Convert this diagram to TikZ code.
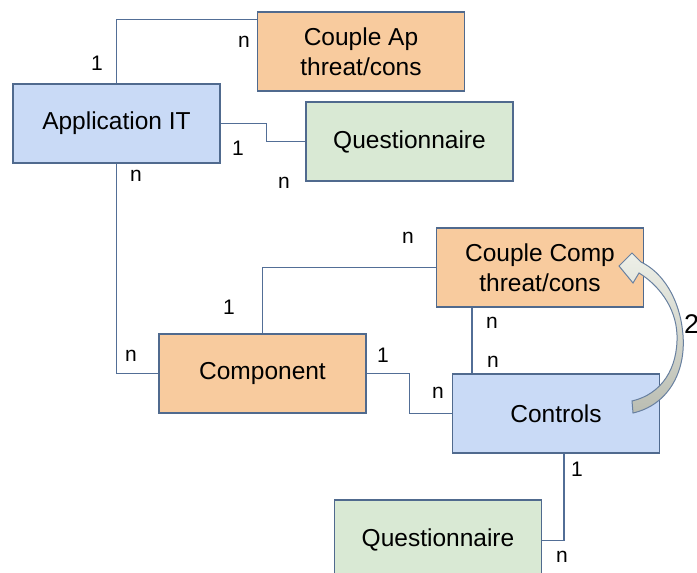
\documentclass[tikz,border=0pt]{standalone}
\usepackage{fontspec}
\setmainfont{Liberation Sans}
\usetikzlibrary{calc}

\definecolor{boxblue}{RGB}{201,218,246}
\definecolor{boxorange}{RGB}{248,203,158}
\definecolor{boxgreen}{RGB}{217,233,212}
\definecolor{edgeblue}{RGB}{80,106,142}
\definecolor{linkblue}{RGB}{82,110,150}
\definecolor{arrowtop}{RGB}{238,240,232}
\definecolor{arrowbot}{RGB}{186,189,178}
\definecolor{arrowedge}{RGB}{104,128,160}

\tikzset{
  entity/.style={draw=edgeblue, line width=1.4pt, minimum width=207pt,
    minimum height=79pt, inner sep=0pt, align=center,
    font=\fontsize{24.5}{30}\selectfont},
  bluebox/.style={entity, fill=boxblue},
  orangebox/.style={entity, fill=boxorange},
  greenbox/.style={entity, fill=boxgreen},
  link/.style={draw=linkblue, line width=1.4pt},
  card/.style={inner sep=0pt, font=\fontsize{21}{24}\selectfont}
}

\begin{document}
\begin{tikzpicture}[x=1pt, y=-1pt]
\useasboundingbox (0,0) rectangle (697,573);

% entities
\node[bluebox]   (app)  at (116.5,123.5) {Application IT};
\node[orangebox] (cap)  at (361,51.5)    {Couple Ap\\threat/cons};
\node[greenbox]  (q1)   at (409.5,141.5) {Questionnaire};
\node[orangebox] (cc)   at (540,267.5)   {Couple Comp\\threat/cons};
\node[orangebox] (comp) at (262.5,373.5) {Component};
\node[bluebox]   (ctl)  at (556,413.5)   {Controls};
\node[greenbox]  (q2)   at (438,539.5)   {Questionnaire};

% relations
\draw[link] (app.north) |- ([yshift=-8pt]cap.north west);
\draw[link] (app.east) -- ++(46,0) |- (q1.west);
\draw[link] (app.south) |- (comp.west);
\draw[link] (comp.north) |- (cc.west);
\draw[link] (comp.east) -- ++(43,0) |- (ctl.west);
\draw[link] ([xshift=36pt]cc.south west) -- ([xshift=20pt]ctl.north west);
\draw[link] ([xshift=8pt]ctl.south) |- ([yshift=-1pt]q2.east);

% cardinalities
\node[card] (c1)  at (97,63)   {1};
\node[card] (c2)  at (244,42)  {n};
\node[card] (c3)  at (238,148) {1};
\node[card] (c4)  at (284,183) {n};
\node[card] (c5)  at (136,176) {n};
\node[card] (c6)  at (131,356) {n};
\node[card] (c7)  at (229,307) {1};
\node[card] (c8)  at (383,355) {1};
\node[card] (c9)  at (438,393) {n};
\node[card] (c10) at (408,238) {n};
\node[card] (c11) at (492,323) {n};
\node[card] (c12) at (493,362) {n};
\node[card] (c13) at (577,469) {1};
\node[card] (c14) at (562,557) {n};
\node[card, anchor=west, font=\fontsize{27}{30}\selectfont] (c15) at (684,324) {2};

% curved block arrow from Controls back to Couple Comp
\path[draw=arrowedge, line width=1pt, top color=arrowtop, bottom color=arrowbot]
  (633,413) .. controls (668,405) and (686,372) .. (683,335)
            .. controls (680,298) and (662,272) .. (641,262)
  -- (632,253) -- (619,266) -- (633,283) -- (639,273)
            .. controls (657,284) and (676,306) .. (677,335)
            .. controls (678,368) and (662,394) .. (632,401)
  -- cycle;
\end{tikzpicture}
\end{document}
